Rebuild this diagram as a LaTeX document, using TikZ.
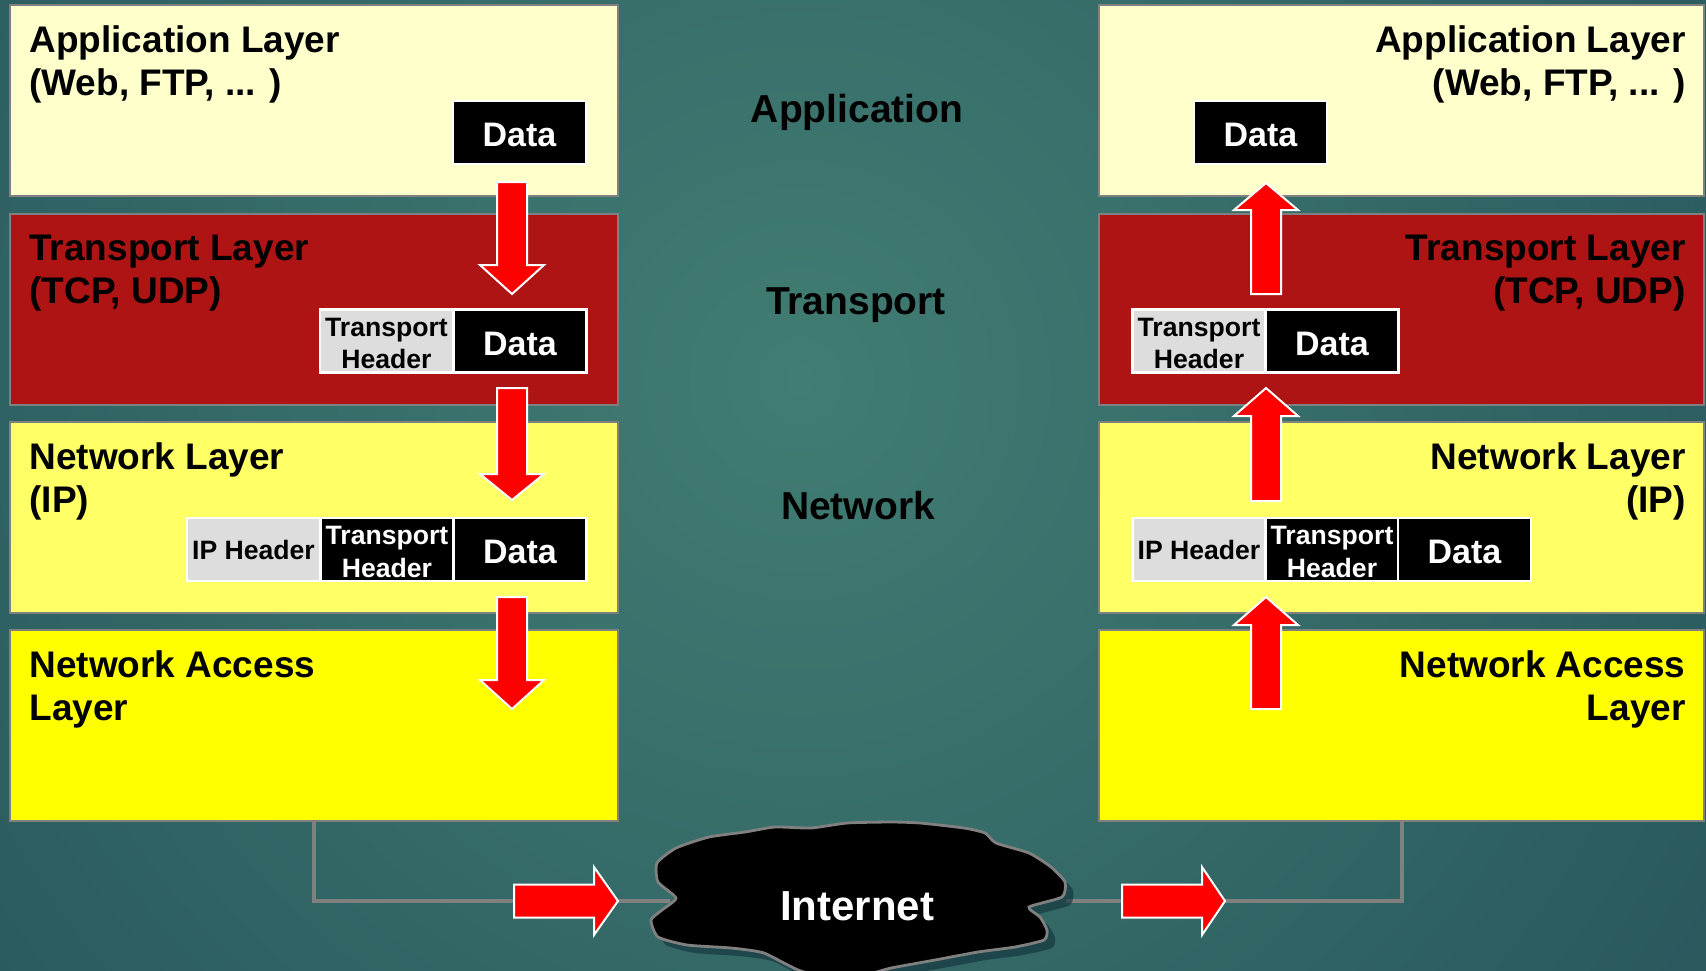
\documentclass[tikz,border=0pt]{standalone}
\usepackage{fontspec}
\setmainfont{Liberation Sans}
\definecolor{bgin}{HTML}{417D73}
\definecolor{bgout}{HTML}{14394A}
\definecolor{appc}{HTML}{FFFFCC}
\definecolor{trc}{HTML}{AF1414}
\definecolor{netc}{HTML}{FFFF66}
\definecolor{nac}{HTML}{FFFF00}
\definecolor{bordc}{HTML}{808080}
\definecolor{hdrc}{HTML}{DDDDDD}
\definecolor{shadc}{HTML}{0E2B33}
\newcommand{\varr}[4]{\filldraw[redarrow] ({#1-15},#2) -- ({#1+15},#2) -- ({#1+15},#3) -- ({#1+32},#3) -- (#1,#4) -- ({#1-32},#3) -- ({#1-15},#3) -- cycle;}
\newcommand{\harr}[4]{\filldraw[redarrow] (#2,{#1-16.5}) -- (#3,{#1-16.5}) -- (#3,{#1-34}) -- (#4,#1) -- (#3,{#1+34}) -- (#3,{#1+16.5}) -- (#2,{#1+16.5}) -- cycle;}
\newcommand{\twoline}[2]{\rule{0pt}{11.5pt}#1\\#2}
\begin{document}
\begin{tikzpicture}[x=0.5pt,y=-0.5pt,
  layerbox/.style={draw=bordc,line width=1pt,minimum height=95.5pt,inner sep=0pt},
  lbox/.style={layerbox,minimum width=304pt},
  rbox/.style={layerbox,minimum width=302.5pt},
  title/.style={font=\fontsize{18.5}{21}\selectfont\bfseries,inner sep=0pt,text=black},
  ltitle/.style={title,anchor=base west},
  rtitle/.style={title,anchor=base east},
  midlabel/.style={font=\fontsize{19.5}{22}\selectfont\bfseries,inner sep=0pt,text=black},
  pkt/.style={draw=white,line width=1.2pt,minimum width=66.5pt,minimum height=31.5pt,inner sep=0pt,align=center},
  datab/.style={pkt,fill=black,text=white,font=\fontsize{17}{20}\selectfont\bfseries,text height=14pt,text depth=0pt},
  hdrb/.style={pkt,fill=hdrc,text=black,font=\fontsize{13.3}{16.2}\selectfont\bfseries},
  hdrk/.style={pkt,fill=black,text=white,font=\fontsize{13.3}{16.2}\selectfont\bfseries},
  redarrow/.style={fill=red,draw=white,line width=1pt,line join=miter},
  conn/.style={draw=bordc,line width=2pt}]
\useasboundingbox (0,0) rectangle (1706,970);
\begin{scope}
\clip (0,0) rectangle (1706,970);
\shade[inner color=bgin,outer color=bgout] (800,380) circle[radius=1000pt];
\end{scope}
% layer boxes left
\node[lbox,fill=appc] (appL) at (314,100.5) {};
\node[lbox,fill=trc] (trL) at (314,309) {};
\node[lbox,fill=netc] (netL) at (314,517.5) {};
\node[lbox,fill=nac] (naL) at (314,725) {};
% layer boxes right
\node[rbox,fill=appc] (appR) at (1401.5,100.5) {};
\node[rbox,fill=trc] (trR) at (1401.5,309) {};
\node[rbox,fill=netc] (netR) at (1401.5,517.5) {};
\node[rbox,fill=nac] (naR) at (1401.5,725) {};
% titles left
\node[ltitle] (tA1) at (29,52) {Application Layer};
\node[ltitle] (tA2) at (29,95) {(Web, FTP, ... )};
\node[ltitle] (tT1) at (29,260) {Transport Layer};
\node[ltitle] (tT2) at (29,303) {(TCP, UDP)};
\node[ltitle] (tN1) at (29,469) {Network Layer};
\node[ltitle] (tN2) at (29,512) {(IP)};
\node[ltitle] (tNA1) at (29,677) {Network Access};
\node[ltitle] (tNA2) at (29,720) {Layer};
% titles right
\node[rtitle] (uA1) at (1686,52) {Application Layer};
\node[rtitle] (uA2) at (1686,95) {(Web, FTP, ... )};
\node[rtitle] (uT1) at (1686,260) {Transport Layer};
\node[rtitle] (uT2) at (1686,303) {(TCP, UDP)};
\node[rtitle] (uN1) at (1686,469) {Network Layer};
\node[rtitle] (uN2) at (1686,512) {(IP)};
\node[rtitle] (uNA1) at (1686,677) {Network Access};
\node[rtitle] (uNA2) at (1686,720) {Layer};
% middle labels
\node[midlabel] (mA) at (857,112.5) {Application};
\node[midlabel] (mT) at (856,305) {Transport};
\node[midlabel] (mN) at (858,506) {Network};
% packets left
\node[datab] (dA) at (519.5,132.5) {Data};
\node[hdrb] (thT) at (386.5,341) {\twoline{Transport}{Header}};
\node[datab] (dT) at (520,341) {Data};
\node[hdrb] (ipN) at (253.5,549.5) {IP Header};
\node[hdrk] (thN) at (387,549.5) {\twoline{Transport}{Header}};
\node[datab] (dN) at (520,549.5) {Data};
% packets right
\node[datab] (rdA) at (1260.5,132.5) {Data};
\node[hdrb] (rthT) at (1199,341) {\twoline{Transport}{Header}};
\node[datab] (rdT) at (1332,341) {Data};
\node[hdrb] (ripN) at (1199,549.5) {IP Header};
\node[hdrk] (rthN) at (1332,549.5) {\twoline{Transport}{Header}};
\node[datab] (rdN) at (1464.5,549.5) {Data};
% vertical arrows
\varr{512}{182}{265}{294}
\varr{512}{388}{474}{500}
\varr{512}{597}{680}{709}
\varr{1266}{294}{210}{183}
\varr{1266}{501}{416}{388}
\varr{1266}{709}{625}{597}
% cloud edge coordinates
\coordinate (cloudW) at (670,901);
\coordinate (cloudE) at (1066,901);
% connectors
\draw[conn] (naL.south) |- (cloudW);
\draw[conn] (cloudE) -| (naR.south);
% horizontal arrows
\harr{901}{514}{594}{618}
\harr{901}{1122}{1202}{1225}
% cloud shadow
\fill[shadc,opacity=0.55,xshift=4pt,yshift=-4pt] plot[smooth cycle,tension=0.35] coordinates {
(676,898) (658,882) (657,863) (676,848) (709,837) (745,832) (775,827) (811,828) (847,823) (891,822) (920,823) (964,828) (985,833) (996,843) (1029,853) (1051,867) (1065,882) (1062,897) (1029,907) (1040,917) (1047,930) (1044,940) (1015,947) (978,952) (935,960) (891,968) (862,975) (804,972) (764,953) (731,948) (687,945) (658,937) (651,920) (662,910)};
% cloud
\filldraw[fill=black,draw=bordc,line width=1.4pt] plot[smooth cycle,tension=0.35] coordinates {
(676,898) (658,882) (657,863) (676,848) (709,837) (745,832) (775,827) (811,828) (847,823) (891,822) (920,823) (964,828) (985,833) (996,843) (1029,853) (1051,867) (1065,882) (1062,897) (1029,907) (1040,917) (1047,930) (1044,940) (1015,947) (978,952) (935,960) (891,968) (862,975) (804,972) (764,953) (731,948) (687,945) (658,937) (651,920) (662,910)};
\node[font=\fontsize{21}{24}\selectfont\bfseries,text=white,inner sep=0pt] (inet) at (857,906) {Internet};
\end{tikzpicture}
\end{document}
